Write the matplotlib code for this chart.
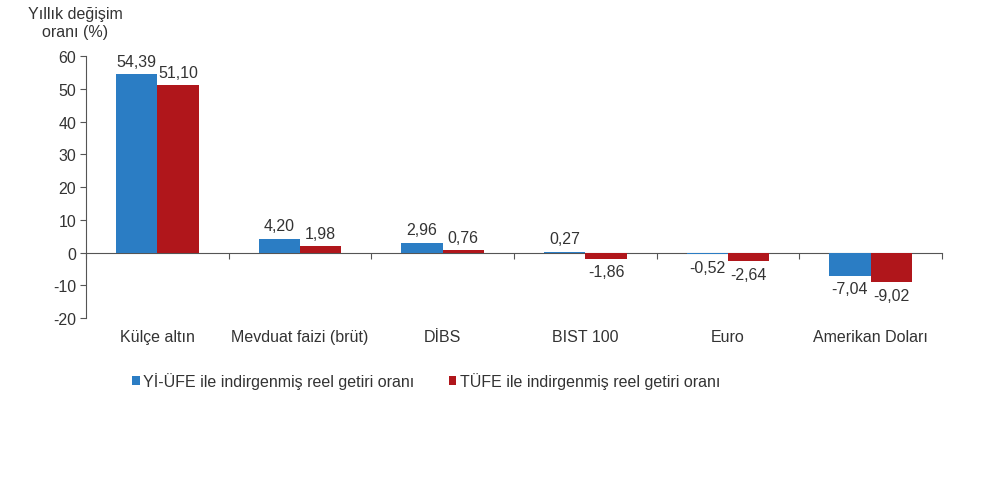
import matplotlib
matplotlib.use('Agg')
import matplotlib.pyplot as plt
import numpy as np

plt.rcParams['font.family'] = ['Liberation Sans', 'DejaVu Sans']

categories = ['Külçe altın', 'Mevduat faizi (brüt)', 'DİBS', 'BIST 100', 'Euro', 'Amerikan Doları']
yi_ufe = [54.39, 4.20, 2.96, 0.27, -0.52, -7.04]
tufe = [51.10, 1.98, 0.76, -1.86, -2.64, -9.02]
series_names = ['Yİ-ÜFE ile indirgenmiş reel getiri oranı', 'TÜFE ile indirgenmiş reel getiri oranı']
yticks = [-20, -10, 0, 10, 20, 30, 40, 50, 60]

blue = '#2b7dc4'
red = '#b0161b'
txt = '#333333'
fs = 11.5

fig = plt.figure(figsize=(10, 4.85), dpi=100)
ax = fig.add_axes([0.086, 0.342, 0.856, 0.5405])

x = np.arange(len(categories))
w = 0.29
b1 = ax.bar(x - w / 2, yi_ufe, w, color=blue, label=series_names[0], zorder=3)
b2 = ax.bar(x + w / 2, tufe, w, color=red, label=series_names[1], zorder=3)


def fmt(v):
    return ('%.2f' % v).replace('.', ',')


for bars, vals in ((b1, yi_ufe), (b2, tufe)):
    for r, v in zip(bars, vals):
        cx = r.get_x() + r.get_width() / 2
        if v >= 0:
            ax.annotate(fmt(v), (cx, v), xytext=(0, 4), textcoords='offset points',
                        ha='center', va='bottom', fontsize=fs, color=txt)
        else:
            ax.annotate(fmt(v), (cx, v), xytext=(0, -4), textcoords='offset points',
                        ha='center', va='top', fontsize=fs, color=txt)

ax.set_xlim(-0.5, len(categories) - 0.5)
ax.set_ylim(-20, 60)
ax.set_yticks(yticks)
ax.set_yticklabels([str(t) for t in yticks], fontsize=fs, color=txt)
ax.tick_params(axis='y', direction='out', length=4, color='#555555', pad=3)

ax.spines['top'].set_visible(False)
ax.spines['right'].set_visible(False)
ax.spines['left'].set_color('#555555')
ax.spines['bottom'].set_position(('data', 0))
ax.spines['bottom'].set_color('#555555')
ax.spines['bottom'].set_zorder(2)

# boundary ticks on the zero line, labels below the plot
ax.set_xticks(np.arange(len(categories) + 1) - 0.5)
ax.set_xticklabels([])
ax.tick_params(axis='x', direction='out', length=4, color='#555555')
for i, c in enumerate(categories):
    ax.text(i, -23.2, c, ha='center', va='top', fontsize=fs, color=txt)

fig.text(0.075, 0.985, 'Yıllık değişim\noranı (%)', ha='center', va='top',
         fontsize=fs, color=txt, linespacing=1.2)

leg = fig.legend(handles=[b1, b2], loc='center left', bbox_to_anchor=(0.118, 0.213),
                 ncol=2, frameon=False, fontsize=fs, handlelength=0.45, handleheight=0.45,
                 handletextpad=0.2, columnspacing=2.2)
for t in leg.get_texts():
    t.set_color(txt)

fig.savefig('out.png', dpi=100)
